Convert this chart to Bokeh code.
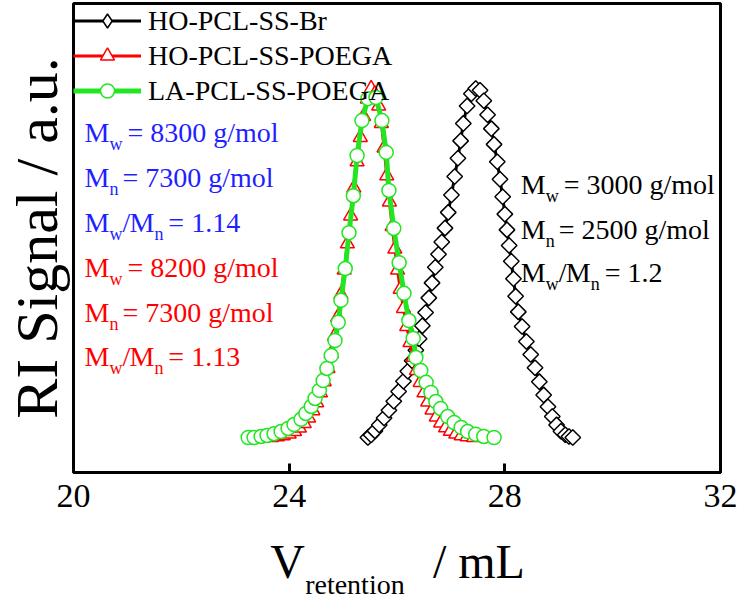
from bokeh.plotting import figure
from bokeh.models import (Range1d, FixedTicker, Label, Legend, LegendItem,
                          ColumnDataSource)
from bokeh.layouts import column
from bokeh.embed import file_html
from bokeh.resources import INLINE
import math

# ---------------- data ----------------
br_x = [25.46, 25.52, 25.59, 25.67, 25.76, 25.85, 25.94, 26.03, 26.12, 26.20,
        26.28, 26.35, 26.41, 26.47, 26.53, 26.59, 26.65, 26.71, 26.77, 26.83,
        26.89, 26.95, 27.01, 27.07, 27.13, 27.18, 27.23, 27.30, 27.38, 27.46,
        27.54, 27.61, 27.68, 27.75, 27.80, 27.86, 27.91, 27.96, 28.00, 28.04,
        28.08, 28.12, 28.16, 28.20, 28.25, 28.32, 28.40, 28.48, 28.56, 28.64,
        28.72, 28.80, 28.88, 28.96, 29.04, 29.12, 29.19, 29.26]
br_y = [0.000, 0.007, 0.019, 0.036, 0.056, 0.078, 0.104, 0.132, 0.161, 0.190,
        0.220, 0.250, 0.283, 0.320, 0.358, 0.400, 0.443, 0.488, 0.525, 0.560,
        0.600, 0.645, 0.695, 0.748, 0.800, 0.850, 0.900, 0.950, 0.985, 1.000,
        0.995, 0.965, 0.925, 0.885, 0.840, 0.790, 0.740, 0.690, 0.640, 0.595,
        0.550, 0.505, 0.455, 0.405, 0.360, 0.318, 0.275, 0.238, 0.200, 0.160,
        0.122, 0.088, 0.060, 0.036, 0.018, 0.008, 0.003, 0.000]

ho_x = [23.67, 23.78, 23.89, 24.00, 24.10, 24.19, 24.28, 24.36, 24.44, 24.51,
        24.58, 24.65, 24.72, 24.78, 24.84, 24.90, 24.96, 25.02, 25.08, 25.14,
        25.20, 25.26, 25.32, 25.38, 25.45, 25.52, 25.59, 25.66, 25.71, 25.76,
        25.81, 25.86, 25.91, 25.96, 26.01, 26.06, 26.12, 26.18, 26.24, 26.30,
        26.36, 26.43, 26.50, 26.57, 26.65, 26.73, 26.81, 26.90, 26.99, 27.09,
        27.19, 27.30, 27.42]
ho_y = [0.000, 0.002, 0.005, 0.010, 0.017, 0.027, 0.040, 0.056, 0.077, 0.100,
        0.128, 0.160, 0.198, 0.240, 0.290, 0.345, 0.410, 0.480, 0.555, 0.635,
        0.715, 0.790, 0.860, 0.920, 0.970, 1.000, 0.985, 0.950, 0.900, 0.830,
        0.750, 0.675, 0.605, 0.540, 0.480, 0.425, 0.370, 0.318, 0.272, 0.230,
        0.192, 0.158, 0.128, 0.102, 0.079, 0.059, 0.042, 0.028, 0.018, 0.010,
        0.005, 0.002, 0.000]

la_x = [23.24, 23.35, 23.48, 23.59, 23.72, 23.85, 23.98, 24.09, 24.22, 24.31,
        24.41, 24.48, 24.56, 24.63, 24.70, 24.78, 24.85, 24.91, 24.96, 25.04,
        25.11, 25.19, 25.26, 25.35, 25.46, 25.61, 25.72, 25.80, 25.85, 25.94,
        26.04, 26.13, 26.22, 26.30, 26.35, 26.44, 26.54, 26.63, 26.72, 26.81,
        26.94, 27.06, 27.19, 27.31, 27.46, 27.61, 27.80]
la_y = [0.000, 0.000, 0.003, 0.006, 0.011, 0.017, 0.026, 0.037, 0.052, 0.069,
        0.089, 0.112, 0.135, 0.163, 0.198, 0.235, 0.278, 0.330, 0.393, 0.484,
        0.587, 0.693, 0.808, 0.908, 0.971, 0.974, 0.908, 0.817, 0.708, 0.599,
        0.501, 0.413, 0.335, 0.284, 0.229, 0.192, 0.158, 0.129, 0.103, 0.083,
        0.060, 0.043, 0.029, 0.017, 0.009, 0.003, 0.000]

series_names = ["HO-PCL-SS-Br", "HO-PCL-SS-POEGA", "LA-PCL-SS-POEGA"]
x_ticks = [20, 24, 28, 32]

# annotation values: [Mw, Mn, Mw/Mn]
poega_blue_vals = ["8300 g/mol", "7300 g/mol", "1.14"]
poega_red_vals = ["8200 g/mol", "7300 g/mol", "1.13"]
br_vals = ["3000 g/mol", "2500 g/mol", "1.2"]

# ---------------- layout (canvas pixels) ----------------
W = 741
H_MAIN, H_TITLE = 522, 78
FL, FR, FT, FB = 72, 720, 3, 472      # frame edges
X0, X1 = 20, 32
Y0, Y1 = -0.1003, 1.2436
FONT = "Liberation Serif"
BLACK, RED, GREEN, BLUE = "black", "#ff0000", "#22e622", "#1f1fff"

p = figure(width=W, height=H_MAIN, output_backend="svg", toolbar_location=None,
           x_range=Range1d(X0, X1), y_range=Range1d(Y0, Y1),
           min_border_left=FL, min_border_right=W - FR,
           min_border_top=FT, min_border_bottom=H_MAIN - FB)
p.grid.visible = False
p.outline_line_color = "black"
p.outline_line_width = 3
p.background_fill_color = "white"
p.border_fill_color = "white"

ax = p.xaxis[0]
ax.ticker = FixedTicker(ticks=x_ticks)
ax.axis_line_width = 3
ax.major_tick_line_width = 3
ax.major_tick_in = 9
ax.major_tick_out = 0
ax.minor_tick_line_color = None
ax.major_label_text_font = FONT
ax.major_label_text_font_size = "34px"
ax.major_label_text_color = "black"
ax.major_label_standoff = 12

ay = p.yaxis[0]
ay.ticker = FixedTicker(ticks=[])
ay.axis_line_color = None
ay.major_tick_line_color = None
ay.minor_tick_line_color = None
ay.axis_label = "RI Signal / a.u."
ay.axis_label_text_font = FONT
ay.axis_label_text_font_size = "60px"
ay.axis_label_text_font_style = "normal"
ay.axis_label_text_color = "black"
ay.axis_label_standoff = 4


def X(px):
    return X0 + (px - FL) * (X1 - X0) / (FR - FL)


def Y(py):
    return Y0 + (FB - py) * (Y1 - Y0) / (FB - FT)


# ---------------- curves ----------------
src_br = ColumnDataSource(dict(x=br_x, y=br_y))
l_br = p.line("x", "y", source=src_br, line_color=BLACK, line_width=3)
p.scatter("x", "y", source=src_br, marker="square", angle=math.pi / 4, size=11,
          fill_color="white", line_color=BLACK, line_width=1.5)
l_ho = p.line(ho_x, ho_y, line_color=RED, line_width=3)
m_ho = p.scatter(ho_x, ho_y, marker="triangle", size=14,
                 fill_color="white", line_color=RED, line_width=1.5)
l_la = p.line(la_x, la_y, line_color=GREEN, line_width=5)
m_la = p.scatter(la_x, la_y, marker="circle", size=14,
                 fill_color="white", line_color=GREEN, line_width=1.5)

# zero-size diamond renderer: invisible in the plot, gives the legend its diamond sample
m_br = p.scatter("x", "y", source=src_br, marker="diamond", size=0,
                 fill_color="white", line_color=BLACK, line_width=1.5)

legend = Legend(items=[LegendItem(label=series_names[0], renderers=[l_br, m_br]),
                       LegendItem(label=series_names[1], renderers=[l_ho, m_ho]),
                       LegendItem(label=series_names[2], renderers=[l_la, m_la])],
                location="top_left",
                glyph_width=68, glyph_height=35, label_height=35, spacing=0,
                padding=0, margin=0, label_standoff=7,
                border_line_color=None, background_fill_alpha=0,
                label_text_font=FONT, label_text_font_size="28px",
                label_text_color="black")
p.add_layout(legend)


# ---------------- annotations ----------------
def put(fig, xf, yf, text, px, py, color, size="28px"):
    fig.add_layout(Label(x=xf(px), y=yf(py), text=text, text_color=color,
                         text_font=FONT, text_font_size=size,
                         text_align="left", text_baseline="alphabetic"))


def block(x0, baselines, color, vals):
    b1, b2, b3 = baselines
    put(p, X, Y, "M", x0, b1, color)
    put(p, X, Y, "w", x0 + 25, b1 + 11, color, "18px")
    put(p, X, Y, "= " + vals[0], x0 + 43, b1, color)
    put(p, X, Y, "M", x0, b2, color)
    put(p, X, Y, "n", x0 + 25, b2 + 11, color, "18px")
    put(p, X, Y, "= " + vals[1], x0 + 38, b2, color)
    put(p, X, Y, "M", x0, b3, color)
    put(p, X, Y, "w", x0 + 25, b3 + 11, color, "18px")
    put(p, X, Y, "/", x0 + 38, b3, color)
    put(p, X, Y, "M", x0 + 45, b3, color)
    put(p, X, Y, "n", x0 + 70, b3 + 11, color, "18px")
    put(p, X, Y, "= " + vals[2], x0 + 84, b3, color)


block(83, (132, 177, 222), BLUE, poega_blue_vals)
block(83, (267, 312, 356), RED, poega_red_vals)
block(520, (184, 229, 272), BLACK, br_vals)

# ---------------- x-axis title (strip under the plot, frame aligned with the plot) ----------------
t = figure(width=W, height=H_TITLE, output_backend="svg", toolbar_location=None,
           x_range=Range1d(X0, X1), y_range=Range1d(0, H_TITLE),
           x_axis_location=None, y_axis_location=None,
           min_border_left=FL, min_border_right=W - FR, min_border_top=0, min_border_bottom=0)
t.grid.visible = False
t.outline_line_color = None
t.background_fill_color = "white"
t.border_fill_color = "white"


def TY(py):
    return H_TITLE - (py - H_MAIN)


put(t, X, TY, "V", 269, 561, BLACK, "48px")
put(t, X, TY, "retention", 304, 584, BLACK, "28px")
put(t, X, TY, "/ mL", 432, 561, BLACK, "48px")

layout = column(p, t, spacing=0)
open("out.html", "w").write(file_html(layout, INLINE))
